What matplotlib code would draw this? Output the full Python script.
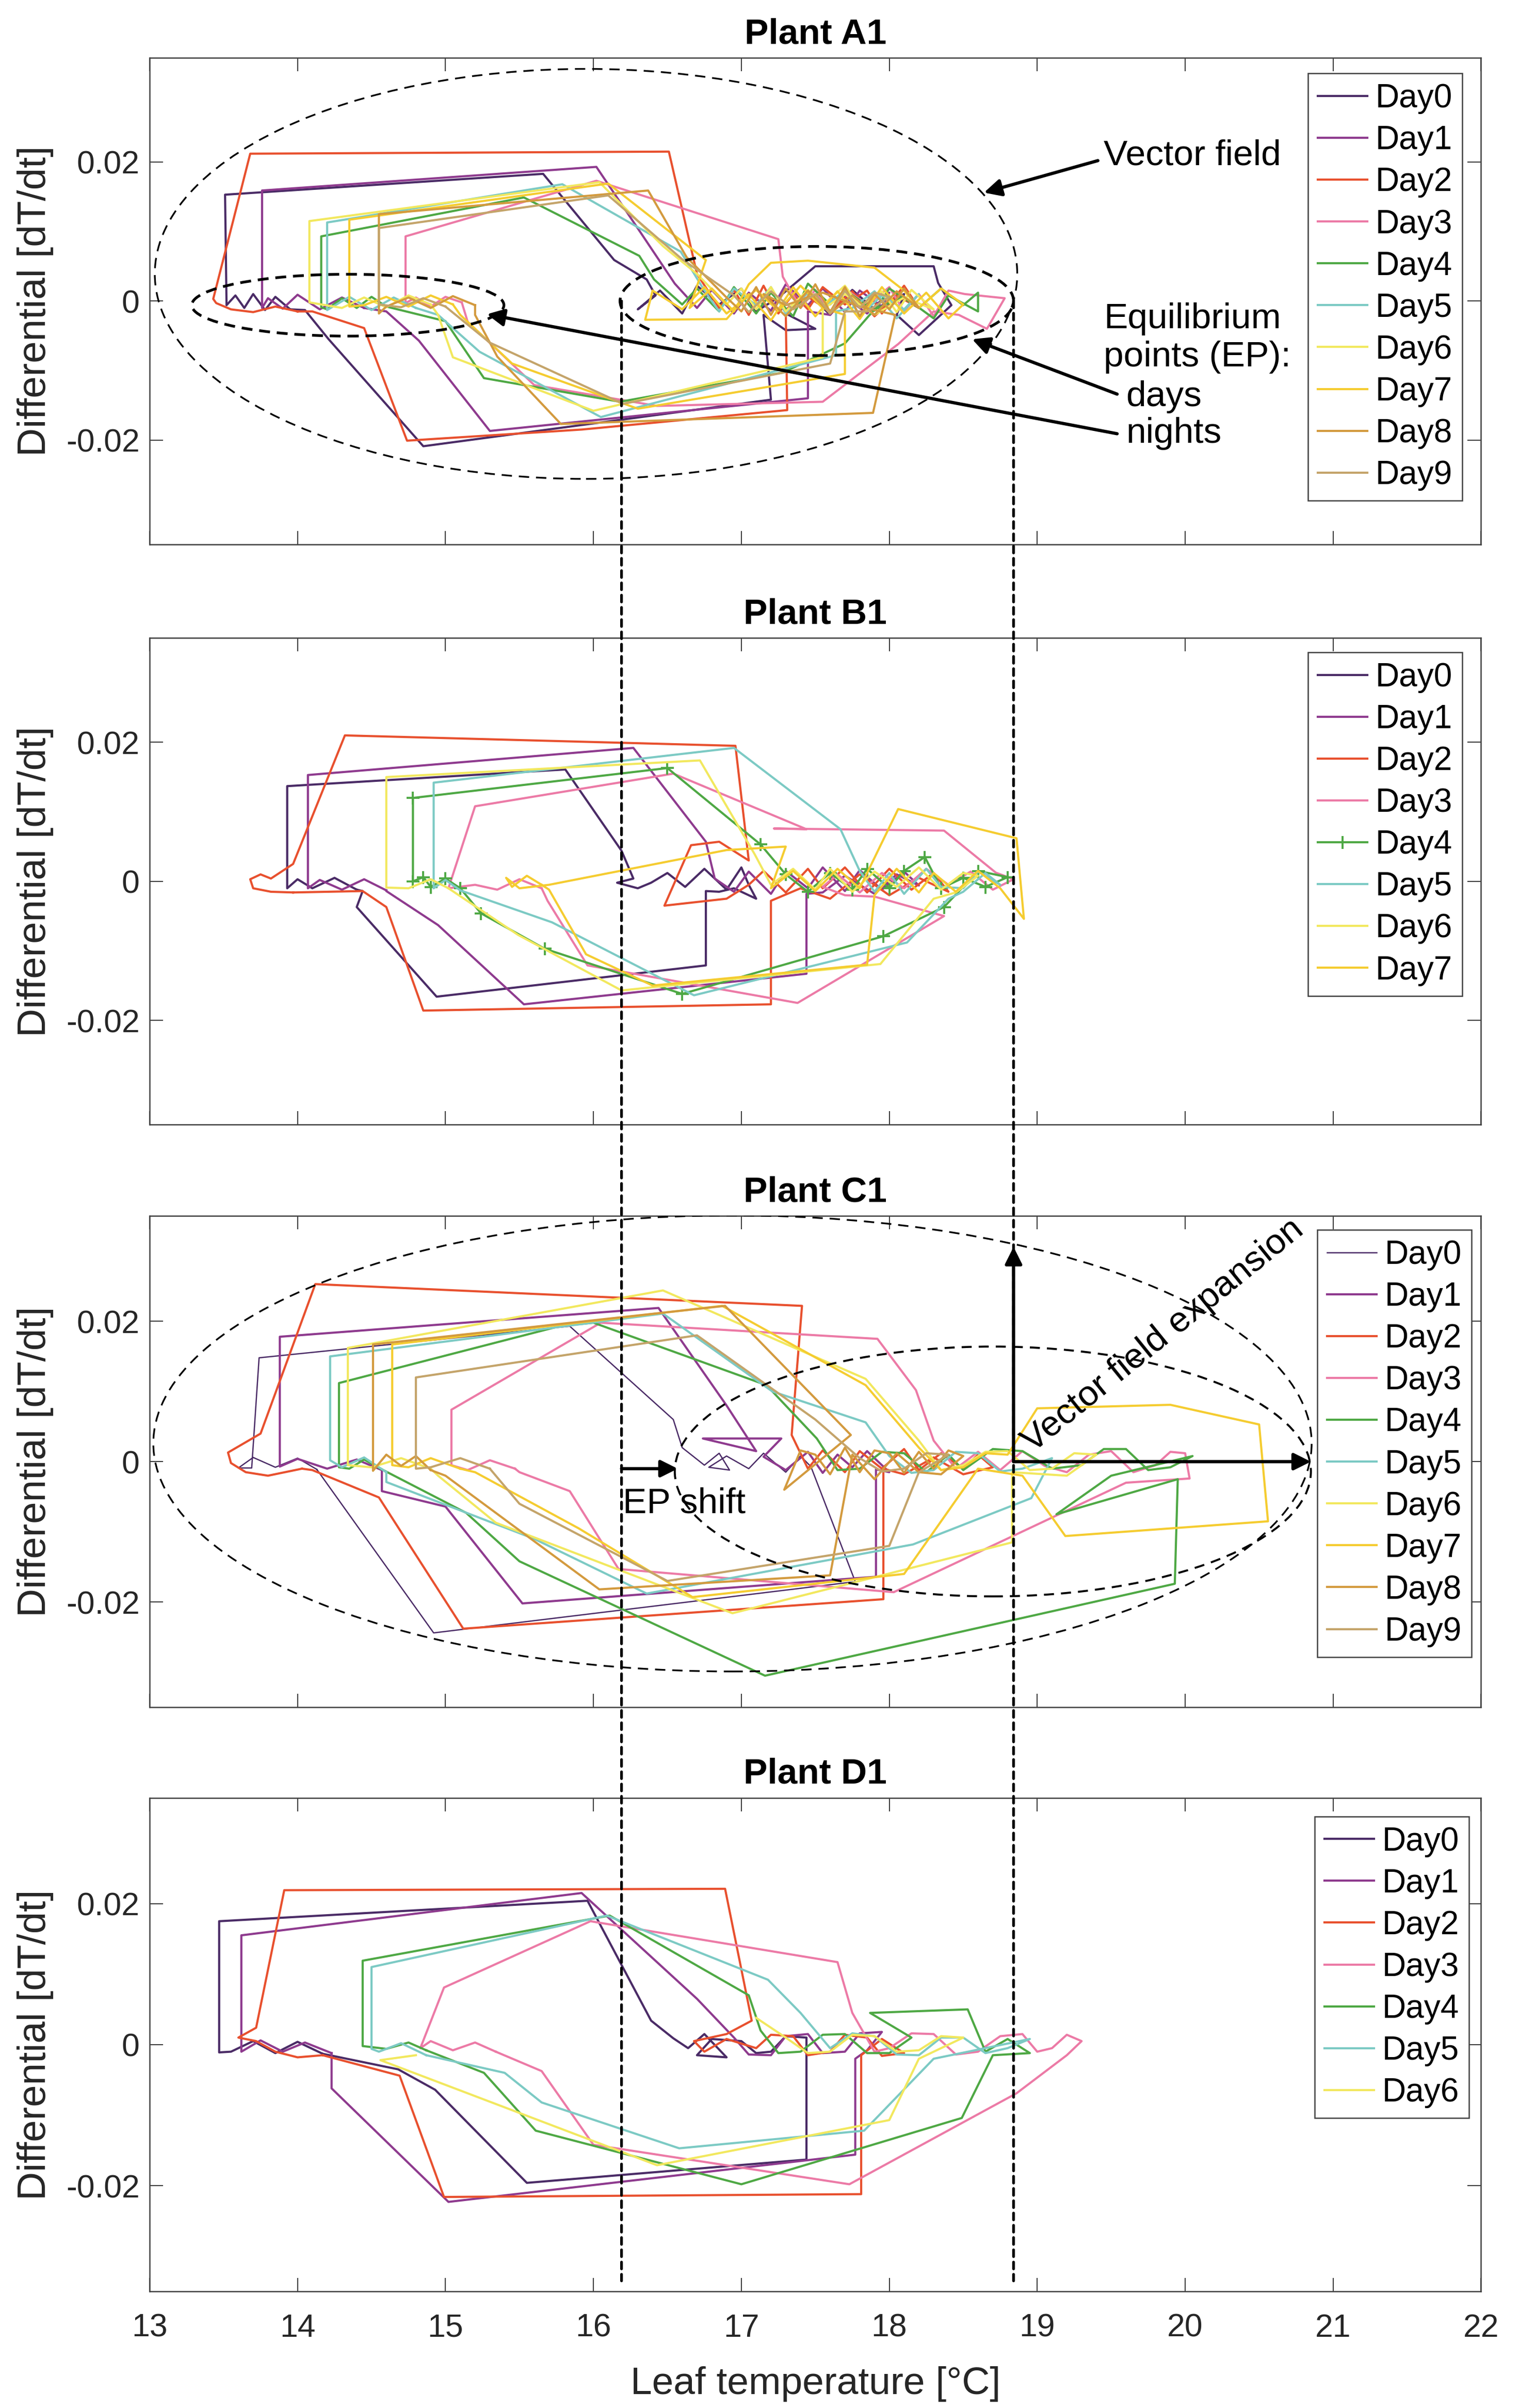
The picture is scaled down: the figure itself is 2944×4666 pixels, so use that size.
import matplotlib
matplotlib.use("Agg")
import matplotlib.pyplot as plt
from matplotlib.patches import Ellipse, ConnectionPatch
import numpy as np

plt.rcParams['font.family'] = ['Liberation Sans', 'DejaVu Sans']
plt.rcParams['axes.unicode_minus'] = False

# colours and labels of the days (MATLAB-like palette)
day_colors = ['#4a2b66', '#8e3a8e', '#e8502e', '#ec7aa6', '#4ea844',
              '#7ccac4', '#f2e85e', '#f5cc30', '#d39a3e', '#c4a46a']
day_labels = ['Day0', 'Day1', 'Day2', 'Day3', 'Day4',
              'Day5', 'Day6', 'Day7', 'Day8', 'Day9']
plant_titles = ['Plant A1', 'Plant B1', 'Plant C1', 'Plant D1']

x_ticks = [13, 14, 15, 16, 17, 18, 19, 20, 21, 22]
y_ticks = [-0.02, 0, 0.02]
y_tick_labels = ['-0.02', '0', '0.02']

# trajectories: [leaf temperature (degC), differential (x 1e-3)]
a1_days = [
    [[13.95, -1.2], [13.85, 0.6], [13.78, -1.3], [13.7, 1.0], [13.64, -1.0], [13.58, 0.8], [13.52, -0.6],
     [13.51, 15.3], [15.66, 18.3], [16.14, 5.9], [16.36, 3.1], [16.42, 0.8], [16.3, -1.2], [16.45, 1.5],
     [16.6, -1.8], [16.7, 2.2], [16.85, -0.5], [17.0, 1.8], [17.1, -1.5], [17.25, 0.5], [17.5, 5.0],
     [18.3, 5.0], [18.33, 2.6], [18.42, -0.6], [18.2, -4.9], [18.05, -2.0], [18.1, 1.0], [17.9, -1.2],
     [17.75, 1.6], [17.6, -2.0], [17.45, 1.2], [17.3, -1.8], [17.5, -4.0], [17.3, -4.2], [17.15, -2.0],
     [17.2, -14.2], [14.85, -20.9], [14.21, -5.5], [14.05, -1.3], [13.95, -1.2]],
    [[14.45, -1.0], [14.3, 0.5], [14.15, -1.2], [14.0, 0.9], [13.9, -1.1], [13.8, 0.4], [13.76, -1.0],
     [13.76, 15.9], [16.02, 19.3], [16.33, 9.5], [16.55, 2.5], [16.7, -1.0], [16.8, 1.6], [16.95, -1.8],
     [17.05, 1.2], [17.2, -1.4], [17.3, 2.4], [17.45, -0.6], [17.55, 1.8], [17.7, -1.6], [17.8, 1.5],
     [17.95, -0.8], [18.0, 1.2], [17.85, -1.8], [17.7, 0.6], [17.6, -2.0], [17.45, -1.5], [17.45, -14.0],
     [15.3, -18.7], [14.82, -5.7], [14.6, -1.5], [14.45, -1.0]],
    [[14.0, -1.5], [13.85, -0.8], [13.7, -1.6], [13.55, -1.2], [13.45, -0.3], [13.43, 0.3], [13.68, 21.2],
     [16.51, 21.5], [16.7, 3.9], [16.85, -1.0], [16.95, 1.6], [17.05, -2.0], [17.15, 2.2], [17.25, -1.8],
     [17.35, 1.0], [17.45, -1.2], [17.55, 2.0], [17.7, -0.5], [17.85, 1.5], [17.95, -1.8], [18.1, 2.2],
     [18.2, -1.0], [18.05, 0.8], [17.9, -2.2], [17.75, 1.4], [17.6, -1.5], [17.45, 0.6], [17.3, -1.2],
     [17.31, -15.7], [15.92, -18.5], [14.74, -20.1], [14.45, -3.9], [14.1, -1.5], [14.0, -1.5]],
    [[15.11, -0.2], [15.0, 0.6], [14.9, -0.8], [14.8, 0.5], [14.73, -0.3], [14.73, 9.3], [16.02, 17.3],
     [17.25, 8.9], [17.28, 3.5], [17.4, -1.0], [17.5, 1.6], [17.6, -1.8], [17.7, 1.8], [17.85, -0.6],
     [18.0, 2.0], [18.1, -1.5], [18.2, 1.0], [18.3, -2.2], [18.4, 1.5], [18.51, 1.0], [18.78, 0.4],
     [18.66, -4.0], [18.47, -2.0], [18.3, -1.5], [18.06, -6.2], [17.55, -14.5], [16.43, -15.1],
     [15.6, -12.1], [15.15, -3.0], [15.11, -0.2]],
    [[14.6, -0.8], [14.5, 0.6], [14.4, -1.0], [14.3, 0.4], [14.2, -1.2], [14.16, -0.9], [14.16, 9.3],
     [15.53, 14.9], [16.31, 6.5], [16.41, 3.1], [16.6, -0.5], [16.7, 1.8], [16.85, -1.5], [16.95, 2.0],
     [17.1, -1.8], [17.2, 1.2], [17.35, -2.2], [17.45, 2.5], [17.6, -0.5], [17.7, 1.6], [17.9, -1.4],
     [18.0, 1.8], [18.2, -1.0], [18.35, 1.8], [18.5, -0.6], [18.6, 1.2], [18.6, -1.5], [18.4, 0.8],
     [18.3, -2.5], [18.1, 0.6], [17.9, -1.2], [17.7, -6.1], [17.28, -10.3], [16.18, -14.5], [15.26, -11.1],
     [15.0, -2.9], [14.6, -0.8]],
    [[14.8, -1.0], [14.65, 0.5], [14.5, -1.3], [14.35, 0.6], [14.2, -1.3], [14.2, 11.3], [15.79, 16.8],
     [16.59, 7.1], [16.75, 1.5], [16.85, -1.5], [16.95, 1.8], [17.1, -0.6], [17.2, 2.0], [17.3, -1.8],
     [17.45, 1.2], [17.55, -1.0], [17.7, 1.5], [17.8, -2.2], [17.95, 0.8], [18.1, -1.2], [18.2, 1.0],
     [18.05, -2.5], [17.9, 1.4], [17.75, -1.0], [17.64, -1.5], [17.64, -7.8], [16.05, -16.7], [15.23, -7.3],
     [14.95, -2.0], [14.8, -1.0]],
    [[14.9, -0.5], [14.75, 0.8], [14.6, -0.9], [14.45, 0.5], [14.3, -1.0], [14.08, -0.2], [14.08, 11.5],
     [16.04, 17.1], [16.47, 7.9], [16.7, 3.9], [16.9, -0.5], [17.0, 1.8], [17.1, -1.2], [17.2, 2.0],
     [17.3, -1.5], [17.45, 1.6], [17.55, -0.6], [17.7, 2.2], [17.8, -0.8], [17.95, 1.4], [18.05, -1.6],
     [18.15, 1.6], [18.3, -1.2], [18.1, 0.5], [17.9, -2.0], [17.7, 1.0], [17.55, -1.2], [17.55, -8.1],
     [16.0, -15.8], [15.05, -8.1], [14.95, -2.0], [14.9, -0.5]],
    [[15.05, -0.5], [14.9, 0.8], [14.75, -0.8], [14.6, 0.6], [14.45, -0.6], [14.35, -0.8], [14.35, 11.7],
     [16.1, 16.9], [16.76, 5.9], [16.65, -1.0], [16.8, 1.8], [16.95, -1.5], [17.05, 2.4], [17.2, 5.5],
     [17.45, 5.8], [17.9, 4.8], [18.1, 1.5], [18.2, -1.0], [18.35, 1.8], [18.5, -0.5], [18.4, -2.5],
     [18.25, 1.2], [18.1, -1.8], [17.95, 2.0], [17.8, -2.6], [17.65, 1.4], [17.5, -2.2], [17.35, 2.0],
     [17.2, -2.8], [17.05, 1.0], [16.9, -2.6], [16.35, -2.7], [16.4, 1.5], [16.6, -1.2], [16.75, 2.0],
     [16.9, -1.8], [17.1, 1.6], [17.25, -1.4], [17.4, 2.2], [17.55, -1.0], [17.7, -2.0], [17.7, -10.5],
     [16.3, -15.5], [15.45, -9.0], [15.1, -2.0], [15.05, -0.5]],
    [[15.2, -0.6], [15.05, 0.7], [14.9, -1.0], [14.75, 0.5], [14.6, -0.8], [14.55, -1.8], [14.55, 12.5],
     [16.37, 15.9], [16.63, 6.3], [16.9, 0.5], [17.0, -1.5], [17.1, 2.0], [17.2, -2.0], [17.3, 1.8],
     [17.4, -1.0], [17.5, 2.4], [17.6, -1.6], [17.7, 2.0], [17.8, -2.2], [17.9, 1.0], [18.0, -1.2],
     [18.1, 1.8], [18.2, -1.0], [18.05, 1.4], [17.9, -2.0], [17.75, 0.8], [17.6, -1.8], [17.45, 1.5],
     [17.3, -2.2], [17.15, 1.0], [17.3, -0.6], [17.55, 1.2], [17.8, -0.8], [18.04, -2.0], [17.89, -16.1],
     [15.78, -17.7], [15.35, -8.0], [15.2, -2.0], [15.2, -0.6]],
    [[15.0, -0.8], [14.85, 0.4], [14.7, -0.9], [14.55, -0.5], [14.55, 10.5], [16.1, 15.2], [16.6, 6.0],
     [16.95, 0.8], [17.05, -1.6], [17.2, 1.4], [17.35, -1.2], [17.5, 1.0], [17.6, -1.8], [17.7, 1.5],
     [17.8, -1.0], [17.9, 1.2], [18.0, 0.6], [17.85, -1.5], [17.7, -1.5], [17.6, -9.0], [16.2, -14.8],
     [15.3, -6.0], [15.0, -0.8]],
]

b1_days = [
    [[14.4, -1.2], [14.25, 0.5], [14.1, -1.0], [14.0, 0.3], [13.93, -1.0], [13.93, 13.7], [15.81, 16.1],
     [16.19, 4.4], [16.27, 0.4], [16.16, -0.2], [16.3, -1.0], [16.39, -0.2], [16.5, 1.2], [16.62, -0.8],
     [16.75, 1.8], [16.9, -1.2], [17.0, 2.0], [17.05, -0.5], [17.1, -2.5], [16.95, -1.0], [16.85, -1.5],
     [16.76, -1.4], [16.76, -12.1], [14.94, -16.6], [14.4, -3.7], [14.44, -1.4], [14.4, -1.2]],
    [[14.6, -1.3], [14.45, 0.3], [14.3, -1.2], [14.15, 0.2], [14.07, -1.0], [14.07, 15.3], [16.27, 19.2],
     [16.76, 5.7], [16.82, 0.4], [16.95, -1.5], [17.05, 1.4], [17.2, -1.8], [17.3, 1.5], [17.45, -1.0],
     [17.55, 2.0], [17.7, -1.4], [17.8, 1.6], [17.95, -1.2], [18.1, 1.4], [18.2, -0.6], [18.05, 1.0],
     [17.9, -1.8], [17.7, 0.8], [17.55, -1.6], [17.44, -1.8], [17.44, -13.3], [15.53, -17.7], [14.95, -6.3],
     [14.6, -1.4], [14.6, -1.3]],
    [[13.97, -1.6], [13.82, -1.5], [13.7, -1.0], [13.68, 0.3], [13.75, 1.0], [13.82, 0.4], [13.97, 2.5],
     [14.32, 21.0], [16.96, 19.5], [17.05, 3.0], [16.85, 5.7], [16.66, 5.2], [16.48, -3.5], [16.9, -2.5],
     [17.05, -0.5], [17.15, 1.5], [17.3, -1.6], [17.45, 1.8], [17.55, -1.0], [17.7, 2.0], [17.85, -1.6],
     [18.0, 1.8], [18.15, -1.2], [18.3, 1.2], [18.4, -1.5], [18.2, 0.5], [18.0, -2.0], [17.8, 1.0],
     [17.6, -2.5], [17.4, -1.0], [17.2, -2.8], [17.2, -17.7], [14.85, -18.6], [14.6, -3.7], [14.44, -1.4],
     [13.97, -1.6]],
    [[15.65, -1.0], [15.5, 0.3], [15.35, -1.2], [15.2, -0.5], [15.02, -1.0], [15.2, 10.8], [16.54, 15.5],
     [17.44, 7.5], [17.22, 7.6], [18.37, 7.3], [18.72, 1.25], [18.84, 0.3], [18.7, -1.2], [18.55, 1.4],
     [18.4, -0.5], [18.25, 1.8], [18.1, -1.0], [17.95, 1.2], [17.8, -1.6], [17.65, 1.0], [17.55, -0.8],
     [17.7, -2.0], [17.9, -2.2], [18.37, -5.0], [17.38, -17.5], [15.96, -12.1], [15.69, -2.8], [15.65, -1.0]],
    [[15.1, -1.0], [15.0, 0.4], [14.9, -0.8], [14.85, 0.6], [14.78, 0.0], [14.78, 12.0], [16.5, 16.3],
     [17.13, 5.3], [17.3, 1.0], [17.45, -1.5], [17.6, 1.2], [17.75, -1.2], [17.85, 1.8], [18.0, -1.0],
     [18.1, 1.5], [18.24, 3.5], [18.35, -1.0], [18.5, 0.5], [18.65, -0.8], [18.8, 0.6], [18.6, 1.5],
     [18.37, -3.7], [17.96, -7.9], [16.6, -16.2], [15.67, -9.7], [15.24, -4.6], [15.1, -1.0]],
    [[15.1, -1.3], [15.0, 0.2], [14.92, -1.0], [14.92, 14.2], [16.95, 19.2], [17.67, 7.5], [17.8, 1.5],
     [17.9, -1.5], [18.0, 1.2], [18.1, -1.8], [18.25, 1.8], [18.35, -0.8], [18.5, -1.0], [18.6, 1.4],
     [18.75, -0.5], [18.65, 1.2], [18.5, -1.5], [18.4, -2.5], [18.12, -8.8], [16.68, -16.4], [15.72, -5.9],
     [15.1, -1.3]],
    [[15.02, -1.0], [14.9, 0.3], [14.75, -1.0], [14.6, -0.9], [14.6, 15.0], [16.72, 17.4], [17.09, 3.9],
     [17.2, -0.5], [17.35, 1.8], [17.5, -1.2], [17.6, 1.8], [17.75, -1.5], [17.9, 1.4], [18.05, -0.8],
     [18.2, 2.0], [18.35, -1.2], [18.5, 1.2], [18.6, 0.8], [18.45, -1.6], [18.3, -2.5], [17.94, -11.9],
     [16.19, -15.7], [15.49, -7.7], [15.02, -1.0]],
    [[15.65, -0.5], [15.55, 0.8], [15.45, -0.8], [15.41, 0.5], [15.5, -1.0], [15.7, -0.5], [16.9, 4.5],
     [17.3, 5.0], [17.2, -1.0], [17.35, 1.5], [17.5, -1.4], [17.65, 1.8], [17.8, -1.0], [18.06, 10.4],
     [18.86, 6.2], [18.91, -5.4], [18.75, -1.0], [18.6, 1.5], [18.45, -1.5], [18.3, 1.2], [18.2, -1.6],
     [18.05, 1.8], [17.9, -2.0], [17.85, -12.0], [16.4, -15.0], [15.95, -10.5], [15.7, -1.2], [15.65, -0.5]],
]

c1_days = [
    [[14.13, -1.1], [14.0, 0.5], [13.85, -0.8], [13.7, 0.6], [13.6, -0.9], [13.69, -0.9], [13.74, 14.8],
     [15.84, 19.3], [16.54, 6.0], [16.6, 2.0], [16.75, -0.5], [16.85, 1.2], [16.92, -1.2], [16.78, -0.8],
     [16.9, 0.8], [17.05, -1.0], [17.15, 1.2], [17.3, -1.5], [17.4, 0.8], [17.47, -0.7], [17.77, -17.1],
     [14.92, -24.4], [14.13, -1.1]],
    [[14.57, -1.2], [14.4, 0.3], [14.2, -1.0], [14.0, 0.4], [13.88, -0.7], [13.88, 17.8], [16.44, 21.9],
     [16.9, 8.0], [17.1, 1.5], [16.74, 3.3], [17.27, 3.3], [17.15, 0.7], [17.3, -1.2], [17.45, 1.4],
     [17.55, -1.6], [17.65, 1.0], [17.75, -0.8], [17.85, 1.5], [18.0, -1.5], [17.91, -1.1], [17.91, -16.4],
     [15.52, -20.2], [15.0, -6.4], [14.57, -4.2], [14.57, -1.2]],
    [[14.03, -1.0], [13.8, -2.0], [13.65, -1.5], [13.55, -0.2], [13.53, 1.3], [13.75, 4.0], [14.12, 25.3],
     [17.41, 22.2], [17.34, 3.8], [17.45, -1.0], [17.55, 1.6], [17.7, -1.5], [17.8, 1.5], [17.95, -1.0],
     [18.1, 1.8], [18.2, -1.2], [18.35, 1.2], [18.5, -1.0], [18.6, 1.0], [18.7, -0.8], [18.5, -1.8],
     [18.3, 0.6], [18.1, -1.8], [17.96, -1.0], [17.96, -19.6], [15.12, -23.8], [14.55, -5.1], [14.1, -1.2],
     [14.03, -1.0]],
    [[15.47, -1.0], [15.3, 0.2], [15.15, -1.2], [15.04, -0.5], [15.04, 7.4], [16.05, 19.8], [17.92, 17.5],
     [18.18, 10.2], [18.3, 3.0], [18.45, -1.0], [18.6, 1.4], [18.75, -1.2], [18.9, 1.5], [19.05, -0.6],
     [19.2, -1.5], [19.35, 1.0], [19.5, 1.5], [19.65, -1.5], [19.8, -0.5], [19.9, 1.4], [20.0, 1.2],
     [20.03, -2.4], [19.6, -3.0], [18.03, -18.6], [16.17, -15.3], [15.84, -4.2], [15.5, -1.5], [15.47, -1.0]],
    [[14.57, -1.1], [14.45, 0.3], [14.35, -1.0], [14.28, -0.8], [14.28, 11.2], [15.77, 19.3], [16.0, 19.8],
     [17.17, 10.9], [17.51, 3.3], [17.65, -1.2], [17.8, -1.0], [17.95, 1.4], [18.1, 1.2], [18.25, -1.5],
     [18.4, 1.0], [18.5, -1.2], [18.7, 1.8], [18.9, 1.5], [19.1, -1.0], [19.3, -0.5], [19.45, 1.8],
     [19.6, 1.8], [19.75, -1.2], [19.9, -0.8], [20.05, 0.8], [19.5, -2.0], [19.13, -7.5], [19.95, -2.5],
     [19.93, -17.4], [17.16, -30.5], [15.5, -14.2], [15.14, -7.3], [14.57, -1.1]],
    [[14.6, -1.5], [14.45, 0.6], [14.3, -0.8], [14.22, 0.2], [14.22, 15.0], [16.47, 21.1], [17.21, 10.0],
     [17.84, 5.6], [18.0, 0.8], [18.15, -1.6], [18.3, -1.2], [18.45, 1.4], [18.6, 1.2], [18.75, -1.4],
     [18.9, -1.0], [19.1, 0.5], [18.96, -5.2], [18.16, -11.8], [16.36, -18.8], [15.6, -11.0], [14.6, -2.9],
     [14.6, -1.5]],
    [[14.9, -1.0], [14.7, 0.5], [14.5, -0.8], [14.34, -0.5], [14.34, 16.2], [16.47, 24.4], [17.84, 11.8],
     [18.2, 3.0], [18.35, -1.2], [18.5, -0.5], [18.65, 1.4], [18.8, 1.5], [18.95, -1.2], [19.1, -1.0],
     [19.25, 1.2], [19.4, 1.0], [19.2, -2.0], [18.83, -1.5], [18.83, -11.5], [16.94, -21.6], [15.34, -8.7],
     [14.95, -2.0], [14.9, -1.0]],
    [[15.1, -1.0], [14.9, 0.5], [14.75, -0.8], [14.64, -0.5], [14.64, 16.7], [16.87, 22.2], [17.84, 10.9],
     [18.2, 2.0], [18.35, -1.2], [18.5, -0.8], [18.65, 1.2], [18.8, 1.0], [19.0, 7.6], [19.9, 8.1],
     [20.5, 5.3], [20.56, -8.5], [19.19, -10.6], [18.9, -2.0], [18.6, -1.0], [18.1, -16.0], [16.67, -19.3],
     [15.9, -9.5], [15.2, -1.5], [15.1, -1.0]],
    [[14.9, -1.2], [14.8, 0.8], [14.7, -0.6], [14.6, 1.0], [14.51, -1.3], [14.51, 16.7], [16.89, 22.2],
     [17.74, 3.8], [17.29, -4.0], [17.4, 1.6], [17.5, 1.0], [17.6, -1.8], [17.7, 2.0], [17.8, -1.5],
     [17.9, 1.6], [18.0, 1.2], [18.1, -1.6], [18.2, 1.4], [18.3, -1.0], [18.4, 1.6], [18.5, 0.8],
     [18.35, -1.8], [18.2, -1.5], [18.05, 1.2], [17.9, -2.5], [17.75, 1.0], [17.6, -16.2], [16.04, -18.2],
     [15.0, -2.0], [14.9, -1.2]],
    [[15.3, -1.0], [15.1, 0.5], [14.9, -0.8], [14.8, -1.0], [14.8, 12.0], [16.7, 18.0], [17.5, 6.0],
     [17.8, 0.5], [17.95, -1.4], [18.1, -1.0], [18.25, 1.2], [18.4, 1.0], [18.2, -1.5], [18.0, -12.0],
     [16.5, -17.0], [15.5, -6.0], [15.3, -1.0]],
]

d1_days = [
    [[14.17, -1.3], [14.0, 0.4], [13.85, -1.2], [13.7, 0.5], [13.55, -1.0], [13.47, -1.1], [13.47, 17.5],
     [15.96, 20.4], [16.39, 3.4], [16.54, 0.9], [16.64, -0.5], [16.75, 1.5], [16.9, -1.8], [16.7, -1.5],
     [16.8, 0.8], [17.0, 0.5], [17.1, -1.2], [17.2, -1.0], [17.3, 1.2], [17.44, 1.0], [17.44, -1.5],
     [17.44, -16.3], [15.55, -19.6], [14.93, -6.4], [14.68, -3.5], [14.17, -1.3]],
    [[14.23, -1.2], [14.05, 0.3], [13.9, -1.0], [13.75, 0.6], [13.62, -1.0], [13.62, 15.5], [15.92, 21.5],
     [16.7, 6.5], [16.95, 1.0], [17.05, -1.4], [17.2, -1.5], [17.3, 1.2], [17.45, 1.5], [17.55, -1.2],
     [17.7, -1.0], [17.8, 1.6], [17.95, 1.8], [17.85, -0.8], [17.77, -2.0], [17.77, -15.6], [15.02, -22.3],
     [14.23, -6.2], [14.23, -1.2]],
    [[14.17, -1.5], [14.0, -1.8], [13.85, -1.0], [13.72, 0.5], [13.6, 1.0], [13.72, 2.4], [13.91, 21.9],
     [16.89, 22.1], [17.07, 3.4], [16.9, 1.5], [16.68, 0.5], [16.75, -1.0], [16.9, 0.8], [17.1, -0.5],
     [17.2, 1.4], [17.35, 1.2], [17.45, -1.5], [17.6, -1.0], [17.7, 1.4], [17.85, 1.0], [17.95, -1.6],
     [18.1, -1.2], [17.95, 0.8], [17.81, -1.5], [17.81, -21.2], [14.99, -21.6], [14.69, -4.4], [14.17, -1.5]],
    [[15.34, -1.0], [15.2, 0.3], [15.05, -0.8], [14.9, 0.5], [14.83, -0.5], [14.99, 8.1], [15.98, 17.5],
     [17.65, 11.7], [17.75, 4.5], [17.9, -1.0], [18.0, -0.5], [18.15, 1.6], [18.3, 1.5], [18.45, -1.4],
     [18.6, -1.0], [18.75, 1.2], [18.9, 1.5], [19.0, -1.0], [19.1, -0.5], [19.2, 1.4], [19.3, 0.5],
     [19.2, -1.5], [18.86, -6.9], [17.73, -19.8], [16.0, -14.2], [15.65, -3.75], [15.34, -1.0]],
    [[14.87, -0.8], [14.75, 0.3], [14.6, -0.6], [14.44, -0.2], [14.44, 11.9], [16.11, 18.3], [17.05, 7.0],
     [17.13, 2.0], [17.25, -1.2], [17.4, -1.0], [17.55, 1.4], [17.7, 1.5], [17.85, -1.2], [18.0, -1.2],
     [18.15, 1.0], [17.87, 4.5], [18.53, 5.0], [18.65, -1.0], [18.8, 0.8], [18.95, -1.2], [18.7, -1.5],
     [18.49, -10.4], [17.0, -19.8], [15.61, -12.2], [15.26, -4.0], [14.87, -0.8]],
    [[14.87, -1.5], [14.7, 0.2], [14.55, -1.0], [14.5, -0.6], [14.5, 11.0], [16.09, 18.3], [17.18, 9.2],
     [17.4, 4.5], [17.6, -0.5], [17.75, 1.6], [17.9, 1.2], [18.05, -1.4], [18.2, -1.5], [18.35, 1.0],
     [18.5, 1.0], [18.65, -1.2], [18.8, -0.5], [18.95, 0.8], [18.3, -2.0], [17.83, -12.2], [16.58, -14.7],
     [15.65, -8.2], [15.4, -4.0], [14.87, -1.5]],
    [[17.1, 3.8], [17.3, 1.0], [17.45, -1.2], [17.6, -1.0], [17.75, 1.4], [17.9, 1.2], [18.05, -1.0],
     [18.2, -0.8], [18.35, 1.2], [18.5, 1.0], [18.2, -2.0], [18.0, -10.7], [16.43, -17.1], [14.56, -2.2],
     [14.8, -1.5]],
]

fig = plt.figure(figsize=(29.44, 46.66), dpi=100)

# axes boxes [left, bottom, width, height] in figure fractions
boxes = [[0.0985, 0.774, 0.8765, 0.202],
         [0.0985, 0.533, 0.8765, 0.202],
         [0.0985, 0.291, 0.8765, 0.204],
         [0.0985, 0.0484, 0.8765, 0.205]]
legend_anchor = [(0.986, 0.968), (0.986, 0.971), (0.993, 0.972), (0.991, 0.9625)]

all_days = [a1_days, b1_days, c1_days, d1_days]
axes = []
for i, (box, days, title) in enumerate(zip(boxes, all_days, plant_titles)):
    ax = fig.add_axes(box)
    axes.append(ax)
    for k, path in enumerate(days):
        arr = np.array(path)
        lw = 3.0
        if i == 2 and k == 0:
            lw = 1.8
        if i == 1 and k == 4:
            ax.plot(arr[:, 0], arr[:, 1] / 1000.0, color=day_colors[k], lw=lw,
                    marker='+', markersize=18, mew=2.8, label=day_labels[k])
        else:
            ax.plot(arr[:, 0], arr[:, 1] / 1000.0, color=day_colors[k], lw=lw, label=day_labels[k])

    ax.set_xlim(13, 22)
    ax.set_ylim(-0.035, 0.035)
    ax.set_xticks(x_ticks)
    ax.set_yticks(y_ticks, labels=y_tick_labels)
    ax.tick_params(direction='in', top=True, right=True, length=19, width=1.3,
                   labelsize=45, colors='#262626', pad=14)
    ax.tick_params(axis='x', pad=30)
    if i < 3:
        ax.tick_params(labelbottom=False)
    for sp in ax.spines.values():
        sp.set_color('#404040')
        sp.set_linewidth(1.8)
    ax.set_title(title, fontsize=50, fontweight='bold', pad=20)
    ax.set_ylabel('Differential [dT/dt]', fontsize=55, color='#262626', va='center')
    ax.yaxis.set_label_coords(-0.086, 0.5)

    leg = ax.legend(loc='upper right', bbox_to_anchor=legend_anchor[i], borderaxespad=0,
                    fontsize=46, fancybox=False, framealpha=1, edgecolor='#404040',
                    handlelength=1.5, handletextpad=0.25, labelspacing=0.33, borderpad=0.3)
    leg.get_frame().set_linewidth(1.8)

axes[3].set_xlabel('Leaf temperature [\u00b0C]', fontsize=54, color='#262626', va='center')
axes[3].xaxis.set_label_coords(0.5, -0.188)

arrow_kw = dict(arrowstyle='-|>', lw=4.5, color='k', mutation_scale=50, shrinkA=0, shrinkB=0)

# annotations of Plant A1
ax = axes[0]
ax.add_patch(Ellipse((15.95, 0.0039), 5.83, 0.059, fill=False, ec='k', lw=2.4,
                     ls=(0, (6, 4)), zorder=5))
ax.add_patch(Ellipse((14.34, -0.0006), 2.11, 0.0089, fill=False, ec='k', lw=3.8,
                     ls=(0, (4, 2.5)), zorder=5))
ax.add_patch(Ellipse((17.51, 0.0), 2.66, 0.0157, fill=False, ec='k', lw=3.8,
                     ls=(0, (4, 2.5)), zorder=5))
ax.annotate('', xy=(18.64, 0.0156), xytext=(19.41, 0.0202), arrowprops=arrow_kw, zorder=6)
ax.annotate('', xy=(18.56, -0.0055), xytext=(19.54, -0.0134), arrowprops=arrow_kw, zorder=6)
ax.annotate('', xy=(15.28, -0.0019), xytext=(19.54, -0.0191), arrowprops=arrow_kw, zorder=6)
ax.text(19.45, 0.0209, 'Vector field', fontsize=50, ha='left', va='center', zorder=7)
ax.text(19.45, -0.0026, 'Equilibrium', fontsize=50, ha='left', va='center', zorder=7)
ax.text(19.45, -0.0081, 'points (EP):', fontsize=50, ha='left', va='center', zorder=7)
ax.text(19.6, -0.0138, 'days', fontsize=50, ha='left', va='center', zorder=7)
ax.text(19.6, -0.0191, 'nights', fontsize=50, ha='left', va='center', zorder=7)

# annotations of Plant C1
ax = axes[2]
ax.add_patch(Ellipse((16.94, 0.0026), 7.83, 0.065, fill=False, ec='k', lw=2.4,
                     ls=(0, (6, 4)), zorder=5))
ax.add_patch(Ellipse((18.7, -0.0014), 4.3, 0.0356, fill=False, ec='k', lw=2.8,
                     ls=(0, (5, 3.5)), zorder=5))
ax.annotate('', xy=(18.84, 0.0306), xytext=(18.84, 0.0), arrowprops=arrow_kw, zorder=6)
ax.annotate('', xy=(20.85, 0.0), xytext=(18.84, 0.0), arrowprops=arrow_kw, zorder=6)
ax.annotate('', xy=(16.57, -0.001), xytext=(16.19, -0.001), arrowprops=arrow_kw, zorder=6)
ax.text(16.2, -0.006, 'EP shift', fontsize=50, ha='left', va='center', zorder=7)
ax.text(18.97, 0.0012, 'Vector field expansion', fontsize=50, ha='left', va='baseline',
        rotation=39, rotation_mode='anchor', zorder=7)

# dotted guide lines running through all panels
for xv in [16.19, 18.84]:
    con = ConnectionPatch(xyA=(xv, 0.0), coordsA=axes[0].transData,
                          xyB=(xv, -0.0335), coordsB=axes[3].transData,
                          color='k', lw=3.8, linestyle=(0, (2.5, 2)), zorder=8)
    fig.add_artist(con)

fig.savefig('out.png', dpi=100)
